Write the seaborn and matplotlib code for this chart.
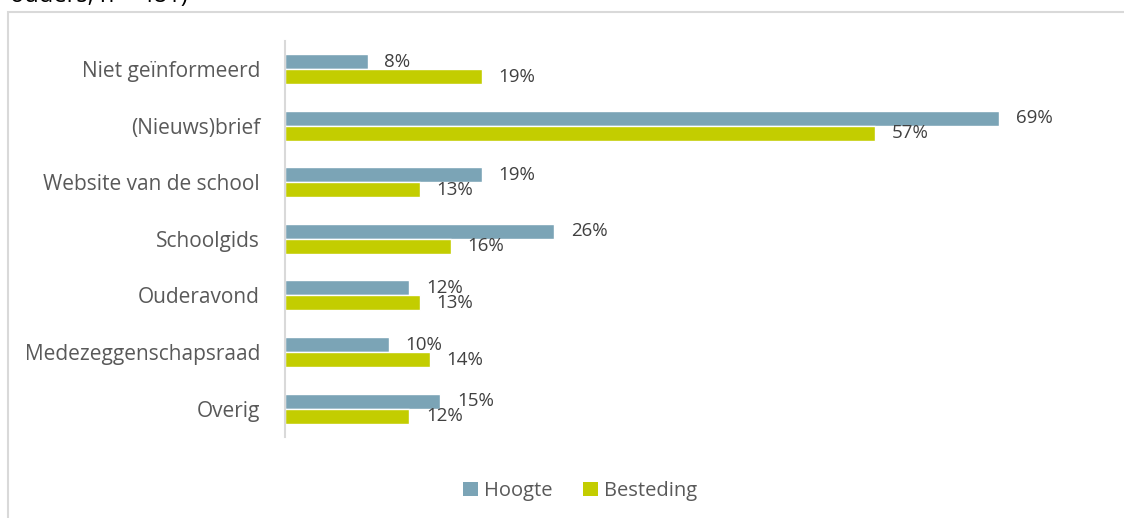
import pandas as pd
import seaborn as sns
import matplotlib
import matplotlib.pyplot as plt
from matplotlib.patches import Rectangle, Patch

matplotlib.use("Agg")

categories = [
  "Niet geïnformeerd",
  "(Nieuws)brief",
  "Website van de school",
  "Schoolgids",
  "Ouderavond",
  "Medezeggenschapsraad",
  "Overig",
]
hoogte = [8, 69, 19, 26, 12, 10, 15]
besteding = [19, 57, 13, 16, 13, 14, 12]
series = ["Hoogte", "Besteding"]
colors = ["#7BA4B6", "#C3CD00"]
text_color = "#404040"
label_color = "#595959"

df = pd.DataFrame(
  {
    "categorie": categories * 2,
    "serie": [series[0]] * len(categories) + [series[1]] * len(categories),
    "pct": hoogte + besteding,
  }
)

sns.set_style("white")
plt.rcParams["font.family"] = ["Open Sans", "DejaVu Sans"]

fig = plt.figure(figsize=(11.24, 5.18), dpi=100)
ax = fig.add_axes((285 / 1124, 1 - 437 / 518, 828 / 1124, (437 - 40.7) / 518))

sns.barplot(
  data=df,
  y="categorie",
  x="pct",
  hue="serie",
  hue_order=series,
  palette=colors,
  order=categories,
  orient="h",
  width=0.53,
  saturation=1,
  legend=False,
  ax=ax,
)

for c in ax.containers:
  ax.bar_label(c, labels=[f"{v:.0f}%" for v in c.datavalues], padding=12, fontsize=13.5, color=text_color)

ax.set_xlim(0, 80)
ax.set_ylim(6.5, -0.5)
ax.set_xlabel("")
ax.set_ylabel("")
ax.set_xticks([])
ax.tick_params(axis="y", length=0, pad=18, labelsize=15, labelcolor=label_color)
for s in ("top", "right", "bottom"):
  ax.spines[s].set_visible(False)
ax.spines["left"].set_color("#D9D9D9")
ax.spines["left"].set_linewidth(1.5)

# outer chart frame (cut off at right and bottom)
fig.patches.append(
  Rectangle((8 / 1124, -0.05), 1.2, 1 - 12 / 518 + 0.05, transform=fig.transFigure,
            fill=False, edgecolor="#D9D9D9", linewidth=1.5)
)
# caption line above the chart, mostly cut off by the image edge
fig.text(10 / 1124, 1 - 2 / 518, "ouders, n = 481)", fontsize=17, color="#000000", va="baseline")

handles = [Patch(facecolor=col, edgecolor="none") for col in colors]
fig.legend(
  handles,
  series,
  loc="center",
  bbox_to_anchor=(0.516, 1 - 491 / 518),
  ncol=2,
  frameon=False,
  fontsize=14.5,
  handlelength=0.75,
  handleheight=0.75,
  handletextpad=0.3,
  columnspacing=1.5,
  labelcolor=label_color,
)

fig.savefig("out.png", dpi=100)
